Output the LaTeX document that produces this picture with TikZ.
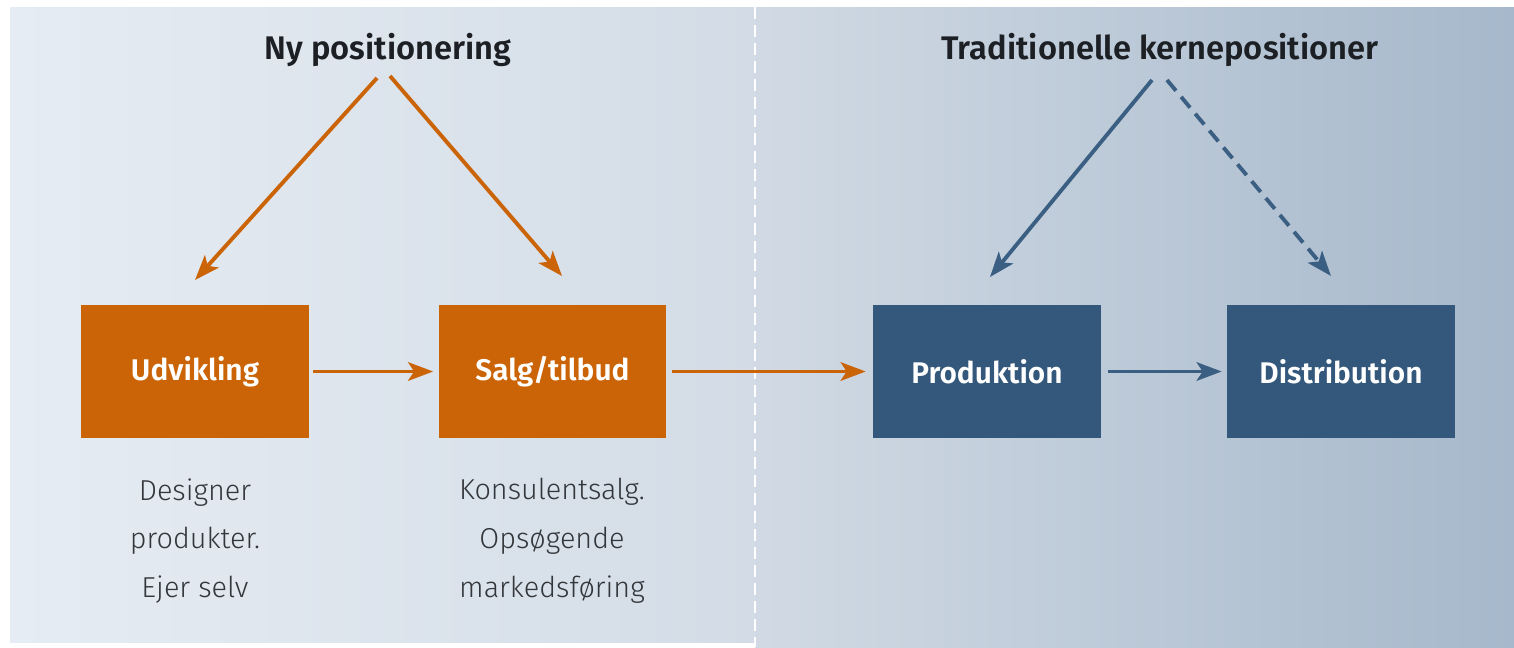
\documentclass[tikz,border=0pt]{standalone}
\usepackage{fontspec}
\setmainfont{Fira Sans}
\newfontfamily\headfont{Fira Sans SemiBold}
\newfontfamily\thinfont{Fira Sans Light}
\usetikzlibrary{arrows.meta}
\definecolor{bgA}{HTML}{E6ECF3}
\definecolor{bgB}{HTML}{D3DCE6}
\definecolor{bgC}{HTML}{D1DAE4}
\definecolor{bgD}{HTML}{A6B8CB}
\definecolor{rust}{HTML}{CB6406}
\definecolor{navy}{HTML}{34587B}
\definecolor{navyline}{HTML}{3B5F82}
\definecolor{ink}{HTML}{1C1F24}
\definecolor{subink}{HTML}{33363B}
\tikzset{
  heading/.style={text=ink, font=\headfont\fontsize{18.6}{22}\selectfont, inner sep=0pt},
  orangebox/.style={fill=rust, text=white, minimum width=4.56cm, minimum height=2.66cm,
    font=\headfont\fontsize{17}{20}\selectfont, inner sep=0pt},
  bluebox/.style={orangebox, fill=navy},
  sublabel/.style={text=subink, align=center, font=\thinfont\fontsize{16.4}{27.8}\selectfont, inner sep=0pt},
  orangearrow/.style={draw=rust, line width=2.2pt, -{Stealth[length=0.5cm,width=0.37cm,inset=0.12cm]}},
  bluearrow/.style={orangearrow, draw=navyline},
  divider/.style={draw=white, line width=1.6pt, dash pattern=on 0.24cm off 0.12cm}
}
\begin{document}
\begin{tikzpicture}[x=0.02cm,y=-0.02cm]
\useasboundingbox (0,0) rectangle (1514,647);
% background panels
\shade[left color=bgA, right color=bgB] (10,7) rectangle (755,642);
\shade[left color=bgC, right color=bgD] (755,7) rectangle (1514,647);
\draw[divider] (755,7) -- (755,647);

% headings
\node[heading] (t1) at (388,50) {Ny positionering};
\node[heading] (t2) at (1160,50) {Traditionelle kernepositioner};

% boxes
\node[orangebox] (u) at (195,371.5) {Udvikling};
\node[orangebox] (s) at (552.5,371.5) {Salg/tilbud};
\node[bluebox] (p) at (987,371.5) {Produktion};
\node[bluebox] (d) at (1341,371.5) {Distribution};

% descriptions
\node[sublabel] (l1) at (195,541) {Designer\\produkter.\\Ejer selv};
\node[sublabel] (l2) at (552,541) {Konsulentsalg.\\Opsøgende\\markedsføring};

% arrow ends
\coordinate (a1s) at (377,78);
\coordinate (a1e) at (195,280);
\coordinate (a2s) at (390,76);
\coordinate (a2e) at (562,276);
\coordinate (b1s) at (1152,80);
\coordinate (b1e) at (990,277);
\coordinate (b2s) at (1167,80);
\coordinate (b2e) at (1331,276);

\draw[orangearrow] (a1s) -- (a1e);
\draw[orangearrow] (a2s) -- (a2e);
\draw[bluearrow] (b1s) -- (b1e);
\draw[bluearrow, dash pattern=on 0.28cm off 0.16cm] (b2s) -- (b2e);

\draw[orangearrow, shorten <=0.08cm, shorten >=0.1cm] (u.east) -- (s.west);
\draw[orangearrow, shorten <=0.1cm, shorten >=0.14cm] (s.east) -- (p.west);
\draw[bluearrow, shorten <=0.14cm, shorten >=0.1cm] (p.east) -- (d.west);
\end{tikzpicture}
\end{document}
